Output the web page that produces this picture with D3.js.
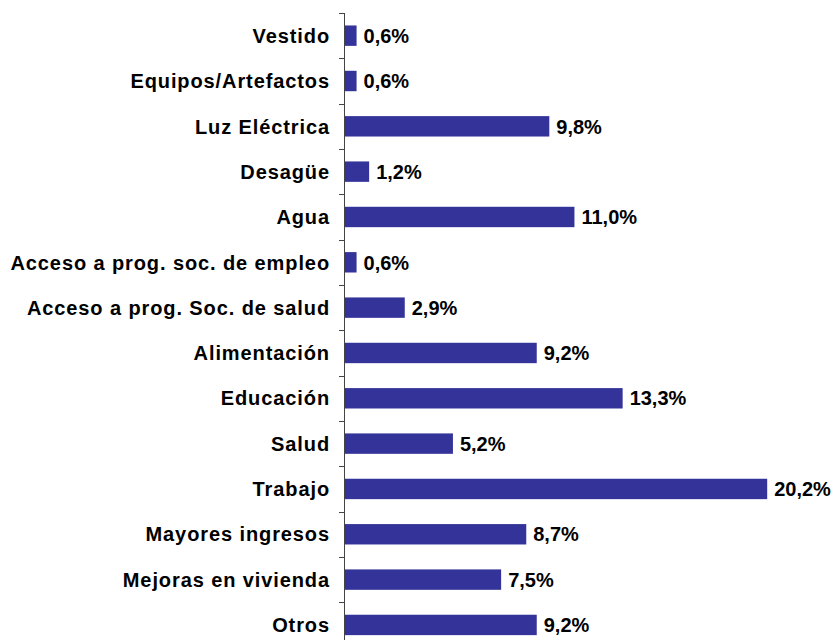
<!DOCTYPE html>
<html>
<head>
<meta charset="utf-8">
<script src="https://cdn.jsdelivr.net/npm/d3@7"></script>
<style>
  body { margin: 0; background: #fff; }
  svg text { font-family: "Liberation Sans", Arial, sans-serif; font-weight: bold; fill: #000; }
</style>
</head>
<body>
<script>
var width = 833,
  height = 640;

// Data
var categories = ["Vestido", "Equipos/Artefactos", "Luz Eléctrica", "Desagüe", "Agua",
  "Acceso a prog. soc. de empleo", "Acceso a prog. Soc. de salud", "Alimentación",
  "Educación", "Salud", "Trabajo", "Mayores ingresos", "Mejoras en vivienda", "Otros"];
var values = [0.6, 0.6, 9.8, 1.2, 11.0, 0.6, 2.9, 9.2, 13.3, 5.2, 20.2, 8.7, 7.5, 9.2];

var svg = d3.select("body")
  .append("svg")
  .attr("width", width)
  .attr("height", height);

// Scales
var x = d3.scaleLinear()
  .domain([0, 20])
  .range([344, 763]);

var y = d3.scaleBand()
  .domain(categories)
  .range([13, 647.6])
  .paddingInner(0.55)
  .paddingOuter(0.275);

var gap = (y.step() - y.bandwidth()) / 2;

// Bars
svg.append("g")
  .selectAll("rect")
  .data(values)
  .enter()
  .append("rect")
  .attr("x", x(0))
  .attr("y", function (d, i) { return y(categories[i]); })
  .attr("width", function (d) { return x(d) - x(0); })
  .attr("height", y.bandwidth())
  .attr("fill", "#333399");

// Axis line and ticks (ticks sit between categories)
var axis = svg.append("g")
  .attr("stroke", "#444")
  .attr("stroke-width", 1);

axis.append("line")
  .attr("x1", x(0) + 0.5)
  .attr("x2", x(0) + 0.5)
  .attr("y1", y.range()[0])
  .attr("y2", height);

var boundaries = categories.map(function (c) { return y(c) - gap; });
axis.selectAll("line.tick")
  .data(boundaries)
  .enter()
  .append("line")
  .attr("class", "tick")
  .attr("x1", x(0) - 5)
  .attr("x2", x(0))
  .attr("y1", function (d) { return Math.round(d) + 0.5; })
  .attr("y2", function (d) { return Math.round(d) + 0.5; });

// Category labels
svg.append("g")
  .selectAll("text")
  .data(categories)
  .enter()
  .append("text")
  .attr("x", x(0) - 14)
  .attr("y", function (d) { return y(d) + y.bandwidth() / 2; })
  .attr("dy", "0.36em")
  .attr("text-anchor", "end")
  .style("font-size", "20px")
  .style("letter-spacing", "0.9px")
  .text(function (d) { return d; });

// Value labels
svg.append("g")
  .selectAll("text")
  .data(values)
  .enter()
  .append("text")
  .attr("x", function (d) { return x(d) + 7; })
  .attr("y", function (d, i) { return y(categories[i]) + y.bandwidth() / 2; })
  .attr("dy", "0.36em")
  .style("font-size", "20px")
  .text(function (d) { return d.toFixed(1).replace(".", ",") + "%"; });
</script>
</body>
</html>
